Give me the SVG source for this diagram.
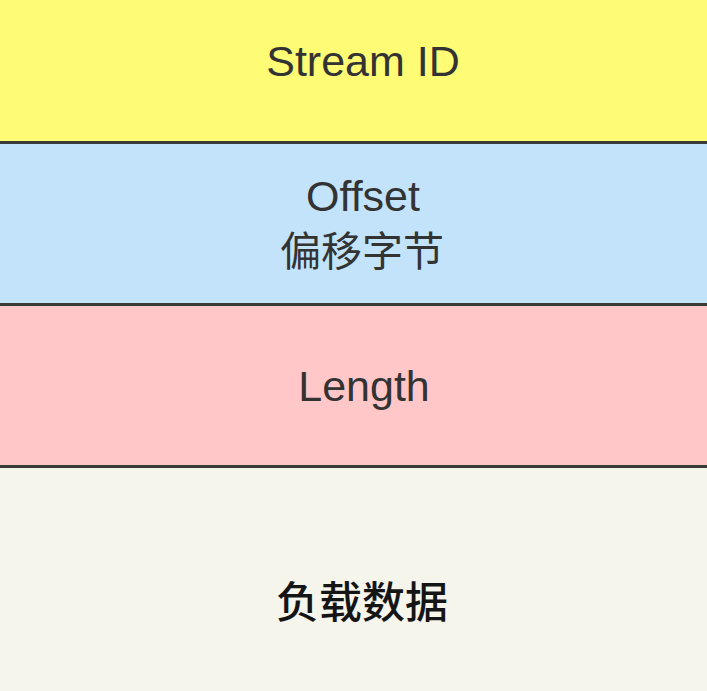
<svg xmlns="http://www.w3.org/2000/svg" width="707" height="691" viewBox="0 0 707 691">
<style>
.band{stroke:none}
.sep{stroke:#3a3a36;stroke-width:3;fill:none}
.lbl{font-family:"Liberation Sans","Noto Sans CJK SC",sans-serif;font-size:43px;fill:#333333;text-anchor:middle}
.cjk{font-family:"Noto Sans CJK SC",sans-serif;font-size:41px;fill:#333333;text-anchor:middle}
</style>
<g id="stream-id">
<rect class="band" x="0" y="0" width="707" height="142" fill="#FDFC74"/>
<text class="lbl" x="363" y="76">Stream ID</text>
</g>
<g id="offset">
<rect class="band" x="0" y="142" width="707" height="162" fill="#C3E3FB"/>
<text class="lbl" x="363" y="211">Offset</text>
<text class="cjk" x="362" y="266">偏移字节</text>
</g>
<g id="length">
<rect class="band" x="0" y="304" width="707" height="162" fill="#FFC7C8"/>
<text class="lbl" x="364" y="401">Length</text>
</g>
<g id="payload">
<rect class="band" x="0" y="466" width="707" height="225" fill="#F6F5EC"/>
<text class="cjk" x="362" y="618" style="fill:#151515;font-size:43px;font-weight:500">负载数据</text>
</g>
<g id="connectors">
<line class="sep" x1="0" y1="142.5" x2="707" y2="142.5"/>
<line class="sep" x1="0" y1="304.5" x2="707" y2="304.5"/>
<line class="sep" x1="0" y1="466.5" x2="707" y2="466.5"/>
</g>
</svg>
